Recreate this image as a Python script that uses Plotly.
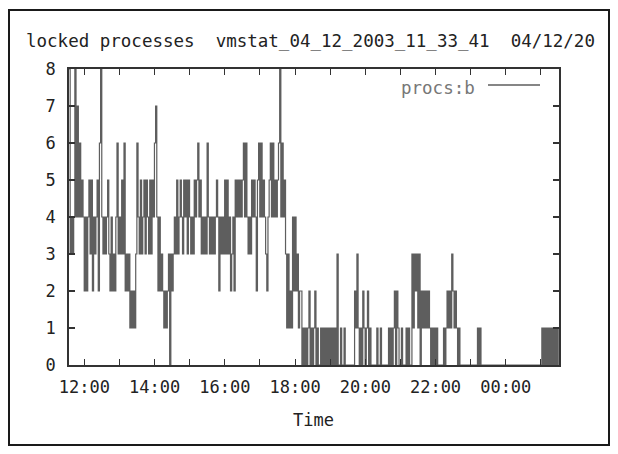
import pandas as pd
import plotly.graph_objects as go

# procs:b samples, 2-minute interval, starting 2003-04-12 11:33:41 (grouped by hour)
b11 = [8, 3, 4, 3, 4, 8, 4, 7, 4, 6, 4, 5, 4]
b12 = [2, 4, 2, 4, 5, 3, 5, 2, 4, 3, 4, 5, 2, 6, 8, 4, 3, 4, 3, 4, 5, 3, 2, 4, 2, 3, 2, 4, 6, 3]
b13 = [4, 3, 5, 3, 6, 2, 3, 2, 3, 1, 2, 1, 2, 1, 3, 6, 4, 3, 5, 3, 4, 5, 3, 5, 4, 3, 5, 3, 5, 4]
b14 = [6, 7, 4, 2, 4, 2, 3, 2, 1, 2, 1, 2, 3, 0, 3, 2, 3, 4, 3, 5, 3, 4, 5, 4, 3, 5, 4, 5, 3, 5]
b15 = [4, 3, 4, 3, 5, 4, 5, 6, 4, 5, 3, 4, 3, 4, 3, 6, 4, 3, 4, 3, 4, 3, 4, 5, 4, 2, 4, 3, 4, 3]
b16 = [5, 3, 5, 3, 4, 2, 3, 4, 2, 5, 4, 5, 4, 5, 4, 5, 6, 4, 6, 4, 3, 4, 3, 5, 4, 5, 4, 2, 5, 6]
b17 = [4, 6, 4, 5, 4, 3, 2, 4, 5, 6, 4, 6, 4, 5, 4, 5, 6, 8, 4, 6, 4, 5, 3, 1, 3, 1, 2, 1, 4, 2]
b18 = [4, 2, 3, 1, 2, 2, 0, 1, 0, 1, 0, 1, 2, 0, 1, 0, 1, 2, 0, 1, 0, 0, 1, 0, 1, 0, 1, 0, 1, 0]
b19 = [1, 0, 1, 0, 1, 0, 3, 0, 0, 1, 0, 0, 1, 0, 0, 0, 0, 0, 0, 0, 0, 2, 1, 3, 1, 0, 1, 0, 2, 1]
b20 = [0, 1, 2, 0, 1, 0, 0, 0, 0, 0, 1, 0, 0, 1, 0, 0, 0, 0, 0, 0, 1, 0, 1, 0, 1, 2, 0, 2, 1, 0]
b21 = [0, 1, 0, 0, 0, 1, 0, 1, 0, 0, 3, 1, 3, 2, 3, 1, 3, 0, 2, 1, 2, 1, 2, 1, 2, 1, 0, 1, 0, 1]
b22 = [0, 1, 0, 0, 0, 0, 0, 1, 0, 1, 2, 1, 2, 1, 3, 2, 1, 2, 1, 0, 1, 0, 0, 0, 0, 0, 0, 0, 0, 0]
b23 = [0, 0, 0, 0, 0, 0, 1, 0, 1, 0, 0, 0, 0, 0, 0, 0, 0, 0, 0, 0, 0, 0, 0, 0, 0, 0, 0, 0, 0, 0]
b00 = [0, 0, 0, 0, 0, 0, 0, 0, 0, 0, 0, 0, 0, 0, 0, 0, 0, 0, 0, 0, 0, 0, 0, 0, 0, 0, 0, 0, 0, 0]
b01 = [0, 1, 0, 1, 0, 1, 0, 1, 0, 1, 0, 1, 0, 1, 0, 1]

start_time = "2003-04-12 11:33:41"
end_time = "2003-04-13 01:31:00"
sample_step = "2min"
y_ticks = [0, 1, 2, 3, 4, 5, 6, 7, 8]

title_text = "locked processes  vmstat_04_12_2003_11_33_41  04/12/20"
series_name = "procs:b"
x_title = "Time"

values = b11 + b12 + b13 + b14 + b15 + b16 + b17 + b18 + b19 + b20 + b21 + b22 + b23 + b00 + b01
times = pd.date_range(start=start_time, periods=len(values), freq=sample_step)

# the page body has an 8px margin on every side; size the figure to fit without scrollbars
OFF = 8
W, H = 618 - 2 * OFF, 454 - 2 * OFF
L, R, T, B = 69 - OFF, 559 - OFF, 69 - OFF, 365 - OFF
pw, ph = R - L, B - T


def px(x):
    return (x - OFF - L) / pw


def py(y):
    return (B - (y - OFF)) / ph


FONT = "DejaVu Sans Mono"
INK = "#222222"
LINE = "#5e5e5e"

fig = go.Figure()
fig.add_trace(go.Scatter(
    x=times, y=values, mode="lines", line=dict(color=LINE, width=1.2, shape="hv"),
    name=series_name, showlegend=False,
))

fig.update_layout(
    width=W, height=H, autosize=False,
    margin=dict(l=L, r=W - R, t=T, b=H - B, pad=0),
    paper_bgcolor="white", plot_bgcolor="white",
    font=dict(family=FONT, size=17, color=INK),
    xaxis=dict(
        type="date", range=[start_time, end_time],
        tickformat="%H:%M", tick0="2003-04-12 12:00:00", dtick=7200000,
        ticks="inside", ticklen=6, tickcolor="#333", tickwidth=1,
        minor=dict(dtick=3600000, ticks="inside", ticklen=6, tickcolor="#333"),
        showline=True, linecolor="#333", linewidth=1.5, mirror="ticks",
        showgrid=False, zeroline=False, ticklabelstandoff=6,
    ),
    yaxis=dict(
        range=[0, 8], tickvals=y_ticks,
        ticks="inside", ticklen=6, tickcolor="#333", tickwidth=1.5,
        showline=True, linecolor="#333", linewidth=1.5, mirror="ticks",
        showgrid=False, zeroline=False, ticklabelstandoff=8,
    ),
)

# outer frame
fig.add_shape(type="rect", xref="paper", yref="paper",
              x0=px(9), x1=px(609), y0=py(445), y1=py(10),
              line=dict(color="#1a1a1a", width=2), fillcolor="rgba(0,0,0,0)")

# title
fig.add_annotation(xref="paper", yref="paper", x=px(24), y=py(41),
                   xanchor="left", yanchor="middle", showarrow=False,
                   text=title_text, font=dict(family=FONT, size=17.5, color=INK))

# x-axis title
fig.add_annotation(xref="paper", yref="paper", x=px(313), y=py(420),
                   xanchor="center", yanchor="middle", showarrow=False,
                   text=x_title, font=dict(family=FONT, size=17, color=INK))

# gnuplot-style key: text then line sample
fig.add_annotation(xref="paper", yref="paper", x=px(477), y=py(88),
                   xanchor="right", yanchor="middle", showarrow=False,
                   text=series_name, font=dict(family=FONT, size=17.5, color="#777"))
fig.add_shape(type="line", xref="paper", yref="paper",
              x0=px(488), x1=px(540), y0=py(85), y1=py(85),
              line=dict(color=LINE, width=1.5))

fig.write_html("out.html")
